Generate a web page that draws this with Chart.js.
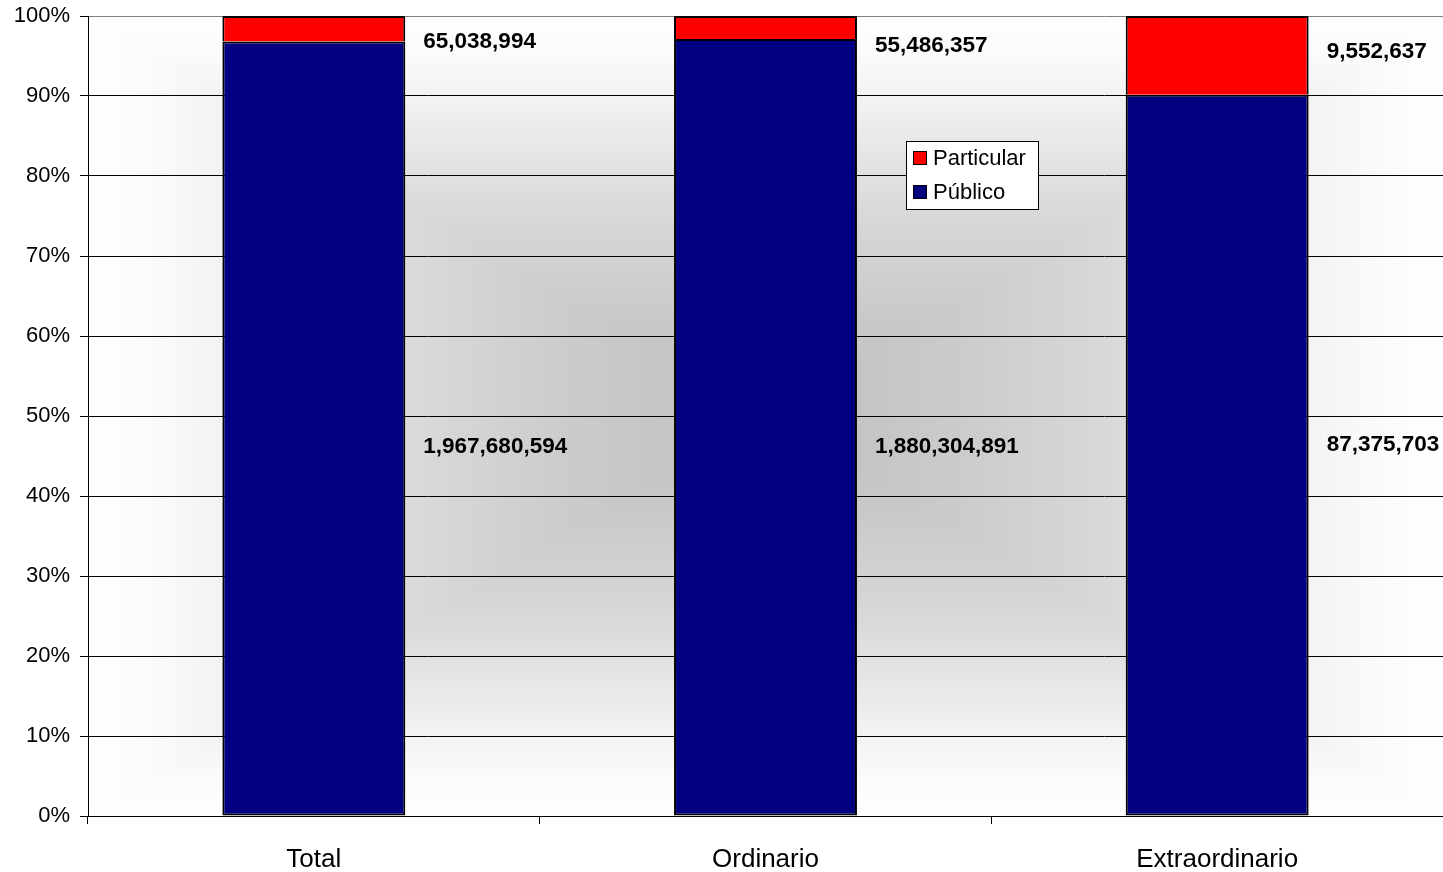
<!DOCTYPE html>
<html>
<head>
<meta charset="utf-8">
<title>Público / Particular</title>
<script src="https://cdn.jsdelivr.net/npm/chart.js@4.4.0/dist/chart.umd.min.js"></script>
<style>
  html, body { margin: 0; padding: 0; background: #fff; }
  #wrap { width: 1443px; height: 872px; }
</style>
</head>
<body>
<div id="wrap"><canvas id="myChart" width="1443" height="872"></canvas></div>
<script>
// categories and amounts per type
const categories = ['Total', 'Ordinario', 'Extraordinario'];
const publico = [1967680594, 1880304891, 87375703];
const particular = [65038994, 55486357, 9552637];
const yTicks = [0, 10, 20, 30, 40, 50, 60, 70, 80, 90, 100];

// share of each category total (100% stacked)
const publicoPct = publico.map((v, i) => v / (v + particular[i]) * 100);
const particularPct = particular.map((v, i) => v / (publico[i] + v) * 100);

const FONT = '"Liberation Sans", Arial, sans-serif';

// gray "from center" fill behind the bars, built pixel by pixel
const grayStops = [[0, 192], [0.13, 196], [0.3, 204], [0.5, 216], [0.65, 229], [0.8, 243], [0.9, 250], [1, 255]];
function grayAt(t) {
    for (let k = 1; k < grayStops.length; k++) {
        if (t <= grayStops[k][0]) {
            const a = grayStops[k - 1], b = grayStops[k];
            return a[1] + (b[1] - a[1]) * (t - a[0]) / (b[0] - a[0]);
        }
    }
    return 255;
}
const plotBackground = {
    id: 'plotBackground',
    beforeDraw(chart) {
        const a = chart.chartArea, ctx = chart.ctx;
        const w = Math.round(a.right - a.left), h = Math.round(a.bottom - a.top);
        const off = document.createElement('canvas');
        off.width = w; off.height = h;
        const octx = off.getContext('2d');
        const img = octx.createImageData(w, h);
        const hw = w / 2, hh = h / 2;
        for (let y = 0; y < h; y++) {
            const ty = Math.abs(y + 0.5 - hh) / hh;
            for (let x = 0; x < w; x++) {
                const tx = Math.abs(x + 0.5 - hw) / hw;
                const g = Math.round(grayAt(Math.max(tx, ty)));
                const p = (y * w + x) * 4;
                img.data[p] = g; img.data[p + 1] = g; img.data[p + 2] = g; img.data[p + 3] = 255;
            }
        }
        octx.putImageData(img, 0, 0);
        ctx.drawImage(off, Math.round(a.left), Math.round(a.top));
    }
};

// amounts written to the right of each segment
const labelShift = [[18, 20, -10], [13, 18, -4]];
const valueLabels = {
    id: 'valueLabels',
    afterDatasetsDraw(chart) {
        const ctx = chart.ctx;
        ctx.save();
        ctx.font = 'bold 22.5px ' + FONT;
        ctx.fillStyle = '#000';
        ctx.textAlign = 'left';
        ctx.textBaseline = 'middle';
        chart.data.datasets.forEach((ds, di) => {
            chart.getDatasetMeta(di).data.forEach((bar, i) => {
                const p = bar.getProps(['x', 'y', 'base', 'width'], true);
                const yMid = (p.y + p.base) / 2 + labelShift[di][i];
                ctx.fillText(ds.raw[i].toLocaleString('en-US'), p.x + p.width / 2 + 18, yMid);
            });
        });
        ctx.restore();
    }
};

// boxed legend inside the plot
const boxLegend = {
    id: 'boxLegend',
    afterDraw(chart) {
        const ctx = chart.ctx, a = chart.chartArea;
        const x = a.left + 818, y = 141, w = 132, h = 68;
        ctx.save();
        ctx.fillStyle = '#fff';
        ctx.fillRect(x, y, w, h);
        ctx.strokeStyle = '#000';
        ctx.lineWidth = 1;
        ctx.strokeRect(x + 0.5, y + 0.5, w, h);
        ctx.font = '22px ' + FONT;
        ctx.textBaseline = 'middle';
        const items = chart.data.datasets.slice().reverse();
        items.forEach((ds, k) => {
            const cy = y + 17 + k * 34;
            ctx.fillStyle = ds.backgroundColor;
            ctx.fillRect(x + 7, cy - 7, 14, 14);
            ctx.strokeStyle = '#000';
            ctx.strokeRect(x + 7.5, cy - 6.5, 13, 13);
            ctx.fillStyle = '#000';
            ctx.fillText(ds.label, x + 27, cy + 1);
        });
        ctx.restore();
    }
};

const ctx = document.getElementById('myChart').getContext('2d');
const chart = new Chart(ctx, {
    type: 'bar',
    data: {
        labels: categories,
        datasets: [{
            label: 'Público',
            data: publicoPct,
            raw: publico,
            backgroundColor: '#000080',
            borderColor: '#000',
            borderWidth: 2,
            borderSkipped: false
        }, {
            label: 'Particular',
            data: particularPct,
            raw: particular,
            backgroundColor: '#ff0000',
            borderColor: '#000',
            borderWidth: 2,
            borderSkipped: 'start'
        }]
    },
    options: {
        responsive: false,
        devicePixelRatio: 1,
        animation: false,
        barPercentage: 0.405,
        categoryPercentage: 1,
        layout: { padding: { top: 16, right: 0, bottom: 0, left: 0 } },
        plugins: {
            legend: { display: false },
            tooltip: { enabled: false }
        },
        scales: {
            x: {
                stacked: true,
                afterFit(scale) {
                    scale.height = 56;
                    scale.paddingLeft = 0;
                    scale.paddingRight = 0;
                },
                grid: {
                    offset: true,
                    drawOnChartArea: false,
                    drawTicks: true,
                    tickLength: 8,
                    color: '#000'
                },
                border: { color: '#000', width: 1 },
                ticks: {
                    color: '#000',
                    font: { family: FONT, size: 26 },
                    padding: 20,
                    maxRotation: 0
                }
            },
            y: {
                stacked: true,
                min: 0,
                max: 100,
                afterFit(scale) {
                    scale.width = 88;
                    scale.paddingTop = 0;
                    scale.paddingBottom = 0;
                },
                afterBuildTicks(scale) { scale.ticks = yTicks.map(v => ({ value: v })); },
                grid: {
                    color: c => (c.tick && c.tick.value === 100) ? '#808080' : '#000',
                    tickColor: '#000',
                    tickLength: 8,
                    lineWidth: 1
                },
                border: { color: '#000', width: 1 },
                ticks: {
                    color: '#000',
                    font: { family: FONT, size: 22 },
                    padding: 10,
                    callback: v => v + '%'
                }
            }
        }
    },
    plugins: [plotBackground, valueLabels, boxLegend]
});
</script>
</body>
</html>
